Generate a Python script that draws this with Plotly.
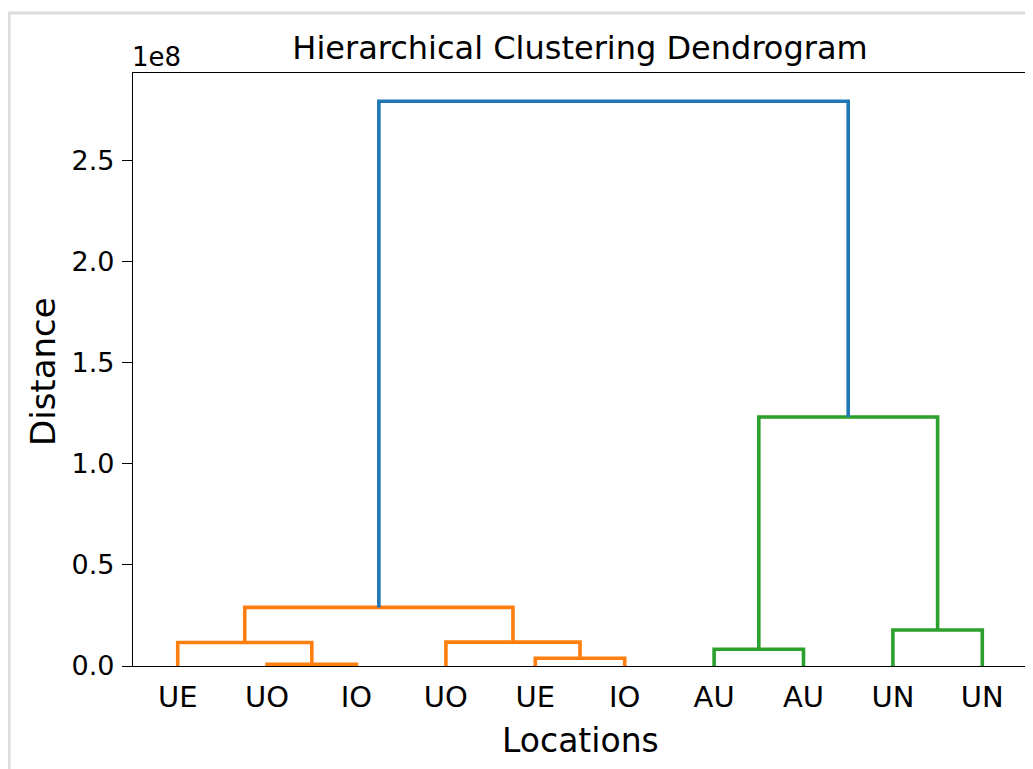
import plotly.graph_objects as go

# ---- data ----
leaf_labels = ["UE", "UO", "IO", "UO", "UE", "IO", "AU", "AU", "UN", "UN"]
# merges: (left cluster id, right cluster id, height); leaves are 0..9, new clusters 10..
merge_left = [1, 4, 6, 0, 3, 8, 13, 12, 16]
merge_right = [2, 5, 7, 10, 11, 9, 14, 15, 17]
merge_height = [0.9e6, 3.8e6, 8.3e6, 11.6e6, 11.8e6, 17.8e6, 29.0e6, 123.2e6, 279.5e6]
merge_group = ["orange", "orange", "green", "orange", "orange", "green", "orange", "green", "blue"]
y_ticks = [0, 0.5e8, 1.0e8, 1.5e8, 2.0e8, 2.5e8]
y_tick_text = ["0.0", "0.5", "1.0", "1.5", "2.0", "2.5"]

colors = {"orange": "#ff7f0e", "green": "#2ca02c", "blue": "#1f77b4"}

# ---- compute link coordinates ----
n = len(leaf_labels)
pos = {i: 5 + 10 * i for i in range(n)}
hgt = {i: 0.0 for i in range(n)}
segs = {k: ([], []) for k in colors}
for k, (a, b, h, g) in enumerate(zip(merge_left, merge_right, merge_height, merge_group)):
    cid = n + k
    xs, ys = segs[g]
    xs += [pos[a], pos[a], pos[b], pos[b], None]
    ys += [hgt[a], h, h, hgt[b], None]
    pos[cid] = (pos[a] + pos[b]) / 2
    hgt[cid] = h

fig = go.Figure()
for g in ["orange", "green", "blue"]:
    xs, ys = segs[g]
    fig.add_trace(go.Scatter(x=xs, y=ys, mode="lines",
                             line=dict(color=colors[g], width=3.6),
                             hoverinfo="skip", showlegend=False))

# page body has an 8px margin; work in window pixels and offset
OFF = 8
WW, WH = 1033, 769
W, H = WW - OFF, WH - OFF
L, R, T, B = 133, 1027, 73, 666  # plot area in window pixels

def px(xp):
    return (xp - L) / (R - L)

def py(yp):
    return (B - yp) / (B - T)

ymax = max(merge_height) * 1.05
font = "DejaVu Sans"

fig.update_layout(
    width=W, height=H,
    margin=dict(l=L - OFF, r=WW - R, t=T - OFF, b=WH - B, pad=0),
    paper_bgcolor="white", plot_bgcolor="white",
    font=dict(family=font, color="black"),
    title=dict(text="Hierarchical Clustering Dendrogram", x=px(580), xref="paper",
               xanchor="center", y=1 - (48 - OFF) / H, yref="container", yanchor="middle",
               font=dict(size=32, family=font, color="black")),
    showlegend=False,
)
fig.update_xaxes(
    range=[0, 10 * n], tickmode="array",
    tickvals=[5 + 10 * i for i in range(n)], ticktext=leaf_labels,
    ticks="", ticklabelstandoff=5, tickfont=dict(size=29, family=font, color="black"),
    showgrid=False, zeroline=False, showline=True, mirror=True,
    linecolor="black", linewidth=1.3,
)
fig.update_yaxes(
    range=[0, ymax], tickmode="array", tickvals=y_ticks, ticktext=y_tick_text,
    ticks="outside", ticklen=10, tickwidth=1.3, tickcolor="black",
    ticklabelstandoff=2, tickfont=dict(size=27, family=font, color="black"),
    showgrid=False, zeroline=False, showline=True, mirror=True,
    linecolor="black", linewidth=1.3,
)
fig.add_annotation(text="Locations", xref="paper", yref="paper", x=px(580), y=py(740),
                   xanchor="center", yanchor="middle", showarrow=False,
                   font=dict(size=33, family=font, color="black"))
fig.add_annotation(text="Distance", xref="paper", yref="paper", x=px(43), y=py(372),
                   xanchor="center", yanchor="middle", textangle=-90, showarrow=False,
                   font=dict(size=34, family=font, color="black"))
fig.add_annotation(text="1e8", xref="paper", yref="paper", x=0, y=py(57),
                   xanchor="left", yanchor="middle", showarrow=False, xshift=-3,
                   font=dict(size=26, family=font, color="black"))
# light gray frame around the figure
fig.add_shape(type="line", xref="paper", yref="paper", x0=px(9), x1=px(9), y0=py(12), y1=py(WH + 5),
              line=dict(color="#dcdcdc", width=3))
fig.add_shape(type="line", xref="paper", yref="paper", x0=px(8), x1=px(WW + 5), y0=py(13), y1=py(13),
              line=dict(color="#dcdcdc", width=3))

fig.write_html("out.html")
